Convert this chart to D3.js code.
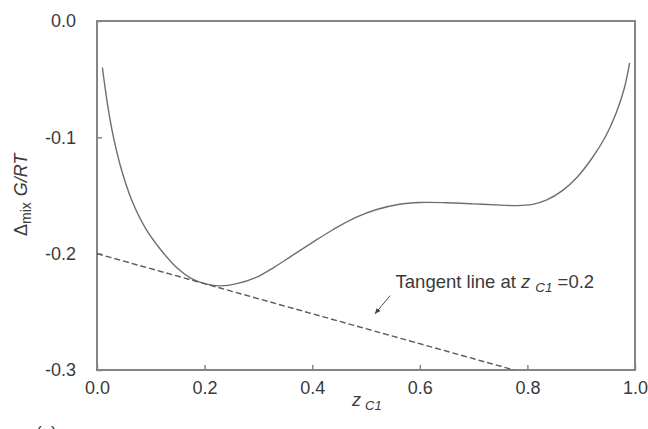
<!DOCTYPE html>
<html>
<head>
<meta charset="utf-8">
<script src="https://cdn.jsdelivr.net/npm/d3@7"></script>
<style>
  body { margin: 0; background: #fff; }
  svg { display: block; font-family: Arial, "Liberation Sans", sans-serif; }
</style>
</head>
<body>
<svg id="chart" width="648" height="429"></svg>
<script>
// mixing Gibbs energy curve
const zC1 = [0.01, 0.02, 0.03, 0.045, 0.065, 0.09, 0.12, 0.15, 0.175, 0.2, 0.23, 0.26, 0.3,
  0.33, 0.36, 0.4, 0.44, 0.48, 0.52, 0.56, 0.6, 0.65, 0.7, 0.75, 0.78, 0.81, 0.836, 0.865,
  0.892, 0.92, 0.945, 0.965, 0.98, 0.99];
const gMix = [-0.040, -0.073, -0.0985, -0.127, -0.1545, -0.178, -0.1975, -0.2128, -0.2213, -0.2258,
  -0.2277, -0.2258, -0.2195, -0.2115, -0.2025, -0.1905, -0.179, -0.169, -0.162, -0.1577, -0.156,
  -0.1562, -0.1572, -0.1583, -0.1587, -0.1576, -0.1538, -0.1458, -0.1345, -0.118, -0.0995, -0.079,
  -0.058, -0.036];

// tangent at z = 0.2
const tangentZ = [0, 0.775];
const tangentG = [-0.2, -0.3];

const xTicks = [0, 0.2, 0.4, 0.6, 0.8, 1.0];
const xTickLabels = ['0.0', '0.2', '0.4', '0.6', '0.8', '1.0'];
const yTicks = [0, -0.1, -0.2, -0.3];
const yTickLabels = ['0.0', '-0.1', '-0.2', '-0.3'];

// annotation (data coords)
const arrowFrom = [0.545, -0.236];
const arrowTo = [0.517, -0.2515];
const noteAt = [0.555, -0.2295];

const svg = d3.select('#chart');
const margin = {left: 97, right: 13, top: 21, bottom: 59};
const width = 648, height = 429;

const x = d3.scaleLinear().domain([0, 1]).range([margin.left, width - margin.right]);
const y = d3.scaleLinear().domain([-0.3, 0]).range([height - margin.bottom, margin.top]);

const frameCol = '#858585';
const textCol = '#3a3a3a';

// frame
svg.append('rect')
  .attr('x', x(0)).attr('y', y(0))
  .attr('width', x(1) - x(0)).attr('height', y(-0.3) - y(0))
  .attr('fill', 'none').attr('stroke', frameCol).attr('stroke-width', 2);

// axes, ticks inside
const xAxis = d3.axisBottom(x).tickValues(xTicks).tickSize(-5).tickPadding(11)
  .tickFormat((d, i) => xTickLabels[i]);
const yAxis = d3.axisLeft(y).tickValues(yTicks).tickSize(-5).tickPadding(21)
  .tickFormat((d, i) => yTickLabels[i]);

const gx = svg.append('g').attr('transform', 'translate(0,' + y(-0.3) + ')').call(xAxis);
const gy = svg.append('g').attr('transform', 'translate(' + x(0) + ',0)').call(yAxis);
[gx, gy].forEach(g => {
  g.select('.domain').remove();
  g.selectAll('line').attr('stroke', frameCol).attr('stroke-width', 1.5);
  g.selectAll('text').attr('fill', textCol).style('font-size', '18px').attr('font-family', null);
});

// curve
const pts = zC1.map((z, i) => [z, gMix[i]]);
const line = d3.line().x(d => x(d[0])).y(d => y(d[1])).curve(d3.curveCatmullRom.alpha(0.5));
svg.append('path').datum(pts)
  .attr('fill', 'none').attr('stroke', '#6e6e6e').attr('stroke-width', 1.4)
  .attr('d', line);

// tangent line
svg.append('path').datum(tangentZ.map((z, i) => [z, tangentG[i]]))
  .attr('fill', 'none').attr('stroke', '#5a5a5a').attr('stroke-width', 1.4)
  .attr('stroke-dasharray', '6,3')
  .attr('d', d3.line().x(d => x(d[0])).y(d => y(d[1])));

// arrow
svg.append('defs').append('marker')
  .attr('id', 'ah').attr('viewBox', '0 0 10 10').attr('refX', 9).attr('refY', 5)
  .attr('markerWidth', 6).attr('markerHeight', 6).attr('orient', 'auto')
  .append('path').attr('d', 'M0,1 L10,5 L0,9 Z').attr('fill', '#444');
svg.append('line')
  .attr('x1', x(arrowFrom[0])).attr('y1', y(arrowFrom[1]))
  .attr('x2', x(arrowTo[0])).attr('y2', y(arrowTo[1]))
  .attr('stroke', '#555').attr('stroke-width', 1)
  .attr('marker-end', 'url(#ah)');

// note text
const note = svg.append('text')
  .attr('x', x(noteAt[0])).attr('y', y(noteAt[1]))
  .attr('fill', textCol).style('font-size', '18.5px');
note.append('tspan').text('Tangent line at ');
note.append('tspan').attr('font-style', 'italic').text('z');
note.append('tspan').attr('font-style', 'italic').style('font-size', '13.5px').attr('dx', 5).attr('dy', 4).text('C1');
note.append('tspan').attr('dx', 5).attr('dy', -4).text('=0.2');

// x label
const xl = svg.append('text')
  .attr('x', 352).attr('y', 406)
  .attr('fill', textCol).style('font-size', '18px');
xl.append('tspan').attr('font-style', 'italic').text('z');
xl.append('tspan').attr('font-style', 'italic').style('font-size', '13px').attr('dx', 4).attr('dy', 4).text('C1');

// y label
const yl = svg.append('text')
  .attr('transform', 'translate(27,' + 236 + ') rotate(-90)')
  .attr('fill', textCol).style('font-size', '18px');
yl.append('tspan').text('\u0394');
yl.append('tspan').style('font-size', '14px').attr('dy', 4).text('mix');
yl.append('tspan').attr('font-style', 'italic').attr('dx', 6).attr('dy', -4).text('G/RT');

// panel tag, cut off at the bottom edge
svg.append('text').attr('x', 36).attr('y', 438)
  .attr('fill', textCol).style('font-size', '17px').text('(a)');
</script>
</body>
</html>
